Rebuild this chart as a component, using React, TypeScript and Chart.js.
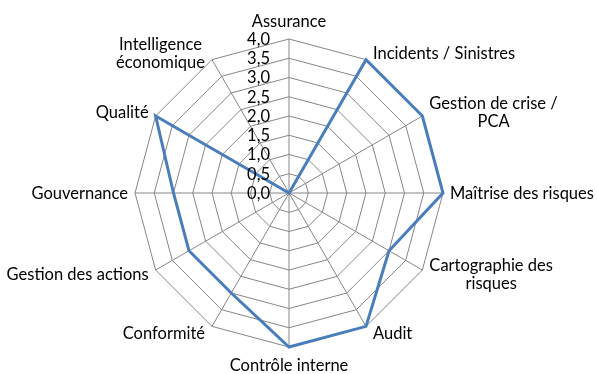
import React, { useEffect, useRef } from "react";
import { Chart, registerables } from "chart.js";

Chart.register(...registerables);

const categories: (string | string[])[] = [
  "Assurance",
  "Incidents / Sinistres",
  ["Gestion de crise /", "PCA"],
  "Maîtrise des risques",
  ["Cartographie des", "risques"],
  "Audit",
  "Contrôle interne",
  "Conformité",
  "Gestion des actions",
  "Gouvernance",
  "Qualité",
  ["Intelligence", "économique"],
];
const seriesValues = [0, 4, 4, 4, 3, 4, 4, 3, 3, 3, 4, 0];
const tickValues = [0, 0.5, 1, 1.5, 2, 2.5, 3, 3.5, 4];
const tickLabels = ["0,0", "0,5", "1,0", "1,5", "2,0", "2,5", "3,0", "3,5", "4,0"];

const FONT_SIZE = 16.5;
const FONT = `${FONT_SIZE}px Lato, 'Open Sans', sans-serif`;
const CAP_HALF = (0.7165 * FONT_SIZE) / 2;
const TEXT = "#000000";
const LINE_H = 18;

const labelPlugin = {
  id: "excelLabels",
  afterDraw(chart: any) {
    const scale = chart.scales.r;
    const ctx = chart.ctx;
    ctx.save();
    ctx.font = FONT;
    ctx.fillStyle = TEXT;
    ctx.textBaseline = "alphabetic";
    // tick labels, right-aligned left of the vertical axis
    ctx.textAlign = "right";
    tickValues.forEach((v, i) => {
      const d = scale.getDistanceFromCenterForValue(v);
      ctx.fillText(tickLabels[i], scale.xCenter - 19, scale.yCenter - d + CAP_HALF);
    });
    // category labels
    const n = categories.length;
    categories.forEach((lab, i) => {
      const p = scale.getPointPosition(i, scale.drawingArea);
      const a = (i / n) * Math.PI * 2;
      const s = Math.sin(a);
      const c = Math.cos(a);
      const lines = Array.isArray(lab) ? lab : [lab];
      const widths = lines.map((l) => ctx.measureText(l).width);
      const w = Math.max(...widths);
      const h = (lines.length - 1) * LINE_H;
      let cx: number;
      let cy: number;
      if (Math.abs(s) < 0.01) {
        cx = p.x;
        cy = p.y - Math.sign(c) * (18 + h / 2);
      } else {
        cx = s > 0 ? p.x + 7 + w / 2 : p.x - 7 - w / 2;
        cy = p.y - c * 8;
      }
      ctx.textAlign = "center";
      lines.forEach((l, k) => {
        ctx.fillText(l, cx, cy - h / 2 + k * LINE_H + CAP_HALF);
      });
    });
    ctx.restore();
  },
};

export default function App() {
  const ref = useRef<HTMLCanvasElement | null>(null);
  useEffect(() => {
    const prevMargin = document.body.style.margin;
    document.body.style.margin = "0";
    if (!ref.current) return;
    const chart = new Chart(ref.current, {
      type: "radar",
      data: {
        labels: categories as any,
        datasets: [
          {
            data: seriesValues,
            borderColor: "#4A7EBB",
            borderWidth: 3,
            borderJoinStyle: "miter",
            fill: false,
            pointRadius: 0,
            pointHoverRadius: 0,
            tension: 0,
          },
        ],
      },
      options: {
        responsive: false,
        animation: false,
        events: [],
        layout: { padding: 0 },
        plugins: { legend: { display: false }, tooltip: { enabled: false } },
        scales: {
          r: {
            min: 0,
            max: 4,
            ticks: { stepSize: 0.5, display: false },
            pointLabels: { display: false },
            grid: { color: "#868686", lineWidth: 1, circular: false },
            angleLines: { color: "#868686", lineWidth: 1 },
            afterFit: (scale: any) => {
              scale.xCenter = 289;
              scale.yCenter = 193;
              scale.drawingArea = 154;
            },
          } as any,
        },
      },
      plugins: [labelPlugin],
    });
    return () => {
      chart.destroy();
      document.body.style.margin = prevMargin;
    };
  }, []);
  return (
    <div style={{ width: 597, height: 374, background: "#fff", overflow: "hidden" }}>
      <canvas ref={ref} width={597} height={374} style={{ display: "block" }} />
    </div>
  );
}
